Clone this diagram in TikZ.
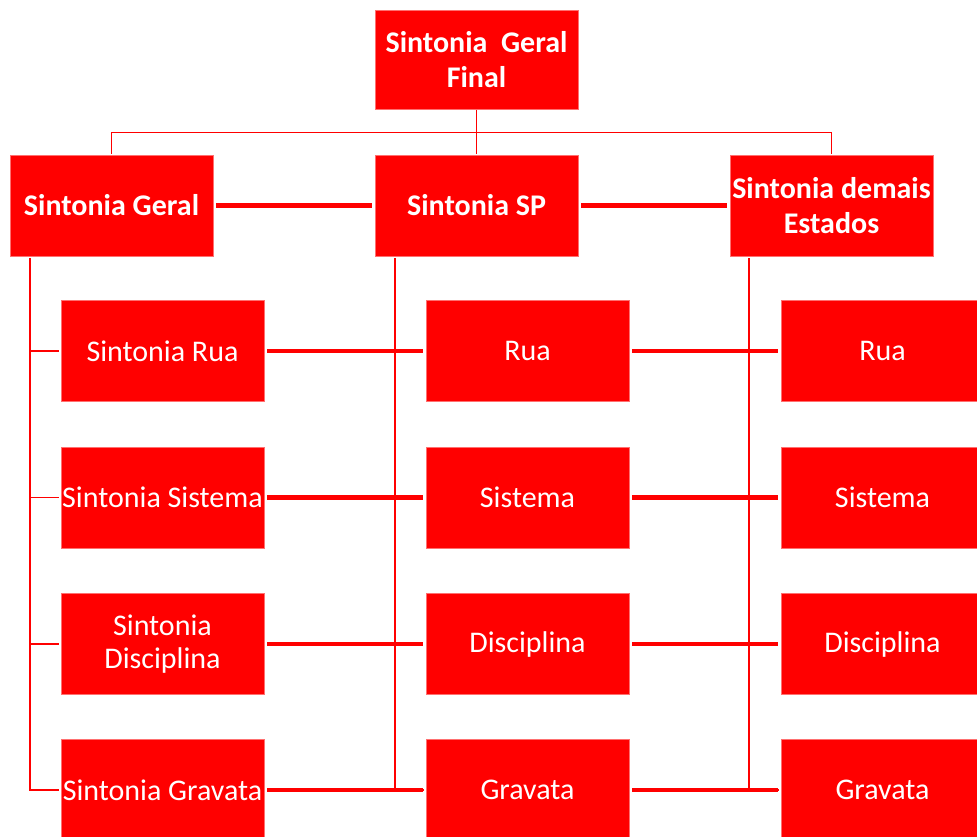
\documentclass[tikz,border=0pt]{standalone}
\usepackage{fontspec}
\setmainfont{Carlito}
\definecolor{boxred}{HTML}{FF0000}
\definecolor{edgepink}{HTML}{FF7070}
\begin{document}
\begin{tikzpicture}[x=1pt,y=-1pt,
  box/.style={rectangle, fill=boxred, draw=edgepink, line width=0.6pt,
    minimum width=203pt, minimum height=101pt, inner sep=0pt,
    text=white, align=center, font=\fontsize{30}{33}\selectfont},
  headbox/.style={box, font=\fontsize{30}{35}\selectfont\bfseries},
  tree/.style={draw=boxred, line width=1.6pt},
  link/.style={draw=boxred, line width=4.6pt, shorten <=3pt, shorten >=3pt}]
\useasboundingbox (0,0) rectangle (977,837);
\clip (0,0) rectangle (977,837);

% top of the hierarchy
\node[headbox, minimum height=99pt] (top) at (476.5,59.5) {Sintonia~~Geral\\Final};

% second level
\node[headbox] (geral) at (111.5,205.5) {Sintonia Geral};
\node[headbox] (sp)    at (476.5,205.5) {Sintonia SP};
\node[headbox] (est)   at (831.5,205.5) {Sintonia demais\\Estados};

% left column
\node[box] (l1) at (162.5,351)   {Sintonia Rua};
\node[box] (l2) at (162.5,497.5) {Sintonia Sistema};
\node[box] (l3) at (162.5,644)   {Sintonia\\Disciplina};
\node[box] (l4) at (162.5,790)   {Sintonia Gravata};

% middle column
\node[box] (m1) at (527.5,351)   {Rua};
\node[box] (m2) at (527.5,497.5) {Sistema};
\node[box] (m3) at (527.5,644)   {Disciplina};
\node[box] (m4) at (527.5,790)   {Gravata};

% right column
\node[box] (r1) at (882.5,351)   {Rua};
\node[box] (r2) at (882.5,497.5) {Sistema};
\node[box] (r3) at (882.5,644)   {Disciplina};
\node[box] (r4) at (882.5,790)   {Gravata};

% tree from the top box down to the second level
\draw[tree, shorten <=1pt, shorten >=1pt] (top.south) -- (sp.north);
\draw[tree, shorten <=1pt, shorten >=1pt] (geral.north) -- ++(0,-22) -| (est.north);

% trunks under each second-level box
\coordinate (lt) at (30,258);
\coordinate (mt) at (395,258);
\coordinate (rt) at (749,258);
\draw[tree] (lt) |- ([xshift=-2pt]l4.west);
\foreach \n in {l1,l2,l3}
  \draw[tree] (lt |- \n.west) -- ([xshift=-2pt]\n.west);
\draw[tree] (mt) |- ([xshift=-2pt]m4.west);
\draw[tree] (rt) |- ([xshift=-2pt]r4.west);

% thick links across each row
\draw[link] (geral) -- (sp);
\draw[link] (sp) -- (est);
\foreach \i in {1,2,3,4} {
  \draw[link] (l\i) -- (m\i);
  \draw[link] (m\i) -- (r\i);
}
\end{tikzpicture}
\end{document}
